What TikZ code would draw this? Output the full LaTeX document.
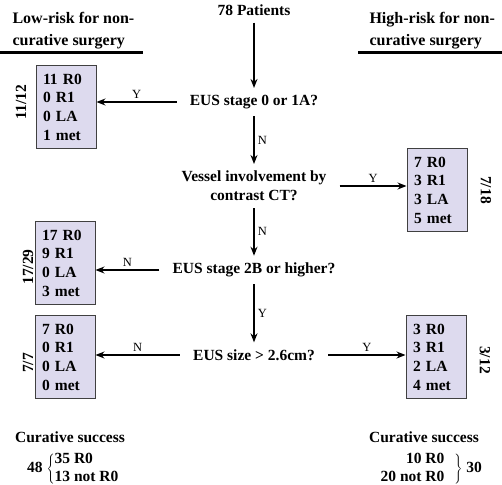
\documentclass[tikz,border=0pt]{standalone}
\usepackage{fontspec}
\setmainfont{Liberation Serif}
\usepackage{tikz}
\usetikzlibrary{arrows.meta, positioning}

\definecolor{boxfill}{RGB}{221,218,238}
\definecolor{boxline}{RGB}{64,64,64}
\renewcommand{\arraystretch}{0.95}

\tikzset{
    question/.style={font=\bfseries\fontsize{15.5}{18.7}\selectfont, align=center, inner xsep=13pt, inner ysep=7pt},
    outcome/.style={draw=boxline, fill=boxfill, line width=1pt, minimum width=60pt, minimum height=83pt,
        text width=46pt, inner xsep=7pt, align=left, font=\bfseries\fontsize{15.5}{18.7}\selectfont},
    ratio/.style={font=\bfseries\fontsize{15.5}{18.7}\selectfont},
    tally/.style={ratio, inner sep=0pt, execute at begin node={\delimiterfactor=700 \delimitershortfall=14pt}},
    header/.style={font=\bfseries\fontsize{16}{22}\selectfont, align=left},
    answer/.style={font=\fontsize{12.5}{14}\selectfont},
    rule/.style={line width=3pt},
    flow/.style={-{Stealth[length=9pt, width=7pt]}, line width=1.2pt},
}

\begin{document}
\begin{tikzpicture}[x=1pt, y=-1pt, auto]
        \useasboundingbox (0,0) rectangle (502,484);

        % headers
        \node (lowhead) [header, anchor=west] at (9,31) {Low-risk for non-\\curative surgery};
        \node (highhead) [header, anchor=west] at (366,31) {High-risk for non-\\curative surgery};
        \draw[rule] (0,53) -- (143,53);
        \draw[rule] (358,53) -- (502,53);

        % decision column
        \node (pat) [question] at (254,10) {78 Patients};
        \node (q1) [question] at (254,102) {EUS stage 0 or 1A?};
        \node (q2) [question] at (254,186) {Vessel involvement by\\contrast CT?};
        \node (q3) [question] at (254,270) {EUS stage 2B or higher?};
        \node (q4) [question] at (254,355) {EUS size > 2.6cm?};

        % outcomes
        \node (lo1) [outcome] at (66,107) {11 R0\\0 R1\\0 LA\\1 met};
        \node (hi1) [outcome] at (437,190) {7 R0\\3 R1\\3 LA\\5 met};
        \node (lo2) [outcome] at (65,263) {17 R0\\9 R1\\0 LA\\3 met};
        \node (lo3) [outcome] at (65,357) {7 R0\\0 R1\\0 LA\\0 met};
        \node (hi2) [outcome] at (436,357) {3 R0\\3 R1\\2 LA\\4 met};

        \node (r1) [ratio, rotate=90] at (21,102) {11/12};
        \node (r2) [ratio, rotate=90] at (28,267) {17/29};
        \node (r3) [ratio, rotate=90] at (28,363) {7/7};
        \node (r4) [ratio, rotate=-90] at (486,190) {7/18};
        \node (r5) [ratio, rotate=-90] at (485,360) {3/12};

        \path[flow]
        (pat) edge (q1)
        (q1) edge node [answer] {N} (q2)
        (q2) edge node [answer] {N} (q3)
        (q3) edge node [answer] {Y} (q4)
        (q1) edge node [answer, swap] {Y} (q1 -| lo1.east)
        (q2) edge node [answer] {Y} (q2 -| hi1.west)
        (q3) edge node [answer, swap] {N} (q3 -| lo2.east)
        (q4) edge node [answer, swap] {N} (q4 -| lo3.east)
        (q4) edge node [answer] {Y} (q4 -| hi2.west);

        % curative success
        \node (lowsucc) [tally] at (70,437) {Curative success};
        \node (lowsplit) [tally, anchor=west] at (27,469)
            {48 $\left\{\begin{tabular}{@{}l@{}}35 R0\\13 not R0\end{tabular}\right.$};
        \node (highsucc) [tally] at (424,437) {Curative success};
        \node (highsplit) [tally, anchor=east] at (482,469)
            {$\left.\begin{tabular}{@{}r@{\hspace{10pt}}}10 R0\\20 not R0\end{tabular}\right\}$ 30};

    \end{tikzpicture}
\end{document}
